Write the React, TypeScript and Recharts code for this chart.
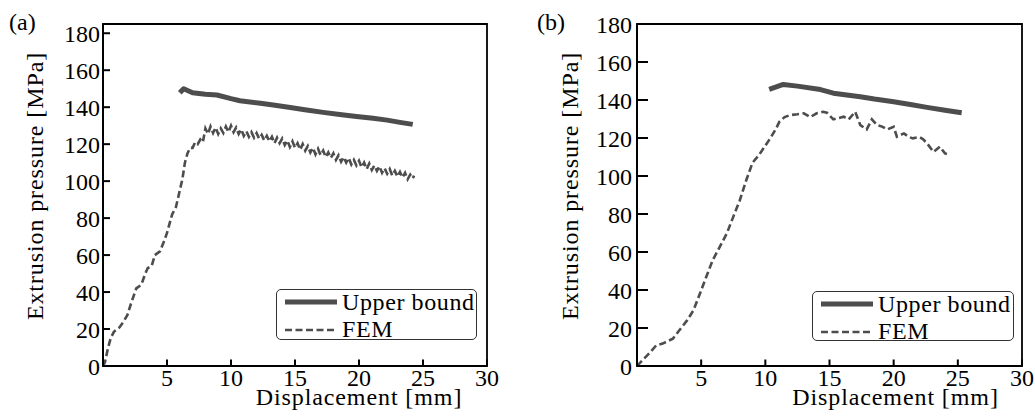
import React from "react";
import {
  LineChart,
  Line,
  XAxis,
  YAxis,
  Legend,
  Label,
  ReferenceArea,
} from "recharts";

// panel (a)
const ubDispA = [6.0, 6.3, 7.0, 8.0, 8.9, 10.0, 10.7, 12.3, 13.3, 14.5, 15.9, 17.2, 18.5, 19.8, 21.1, 22.2, 23.2, 24.2];
const ubPressA = [147.8, 150, 147.8, 147, 146.6, 144.6, 143.5, 142.1, 141.2, 140, 138.5, 137.2, 136.1, 135, 134, 133, 131.8, 130.7];

const femDispA = [
  0, 0.15, 0.4, 0.6, 0.85, 1.3, 1.6, 1.9, 2.2, 2.6, 3.0, 3.3, 3.5, 3.8, 4.05, 4.45, 4.8, 5.0, 5.4, 5.7, 6.0, 6.2, 6.4, 6.6, 6.8, 7.0, 7.2, 7.4, 7.6, 7.8,
  8.0, 8.2, 8.4, 8.6, 8.8, 9.0, 9.2, 9.4, 9.6, 9.8, 10.0, 10.2, 10.4, 10.6, 10.8, 11.0, 11.2, 11.4, 11.6, 11.8,
  12.0, 12.2, 12.4, 12.6, 12.8, 13.0, 13.2, 13.4, 13.6, 13.8, 14.0, 14.2, 14.4, 14.6, 14.8, 15.0, 15.2, 15.4, 15.6, 15.8,
  16.0, 16.2, 16.4, 16.6, 16.8, 17.0, 17.2, 17.4, 17.6, 17.8, 18.0, 18.2, 18.4, 18.6, 18.8, 19.0, 19.2, 19.4, 19.6, 19.8,
  20.0, 20.2, 20.4, 20.6, 20.8, 21.0, 21.2, 21.4, 21.6, 21.8, 22.0, 22.2, 22.4, 22.6, 22.8, 23.0, 23.2, 23.4, 23.6, 23.8,
  24.0, 24.2, 24.3,
];
const femPressA = [
  0, 2, 10, 15, 18.5, 21, 24, 27.5, 34, 42, 44, 50, 53, 54, 60, 62, 68, 72, 82, 86, 95, 101, 110, 115, 118, 118, 121, 120, 122.5, 121,
  128.5, 125.5, 129.5, 126, 129, 125.5, 128.5, 126, 129.5, 126.5, 130, 126.5, 129, 125.5, 128, 124.5, 127, 124, 126.5, 123.5,
  126, 123, 125, 122, 124.5, 121.5, 124, 120.5, 123.5, 120.5, 123, 119.5, 122, 118.5, 121.5, 118, 120.5, 117, 120, 116.5,
  119, 115.5, 118, 114.5, 117.5, 114, 116.5, 113, 115.5, 112.5, 115, 111.5, 114, 110.5, 113, 110, 112.5, 109, 111.5, 108.5,
  111, 107.5, 110, 106.5, 109.5, 106, 108.5, 105.5, 108, 104.5, 107, 104, 106.5, 103, 105.5, 102.5, 105, 102, 104.5, 101,
  103.5, 101.5, 103,
];

// panel (b)
const ubDispB = [10.3, 11.4, 12.5, 14.3, 15.3, 16.5, 17.4, 18.5, 20.0, 21.3, 22.6, 24.0, 25.3];
const ubPressB = [145.6, 148.2, 147.3, 145.5, 143.6, 142.5, 141.7, 140.5, 139.1, 137.6, 136.1, 134.6, 133.3];

const femDispB = [
  0, 0.5, 1.0, 1.5, 2.0, 2.8, 3.3, 3.9, 4.4, 4.9, 5.4, 5.9, 6.45, 7.0, 7.5, 8.0, 8.5, 9.0, 9.5, 10.0, 10.4, 10.8, 11.1, 11.5, 11.9,
  12.5, 13.0, 13.5, 14.0, 14.5, 14.8, 15.3, 15.7, 16.1, 16.5, 17.0, 17.4, 17.9, 18.3, 18.7, 19.1, 19.5, 20.0, 20.25, 20.8, 21.2,
  21.5, 22.0, 22.3, 22.6, 23.1, 23.6, 24.0, 24.4,
];
const femPressB = [
  0, 3.5, 7, 10.9, 11.8, 14.4, 18.8, 24, 29.3, 38, 47, 55.7, 62.7, 69.8, 78.5, 87, 97.5, 107, 111, 116, 120, 124.5, 128.6, 131, 132,
  132.5, 133, 131, 133, 133.8, 133.3, 129.8, 130.5, 131.2, 129.8, 133.8, 126.8, 124.5, 129.8, 126.8, 126, 124.5, 125.9, 120.7, 122.4, 120.5,
  119.8, 120.5, 119.3, 117.2, 112.7, 115.4, 111.9, 111,
];

const xTicks = [5, 10, 15, 20, 25, 30];
const yTicks = [0, 20, 40, 60, 80, 100, 120, 140, 160, 180];

const zip = (d: number[], p: number[]) => d.map((v, i) => ({ d: v, p: p[i] }));

const INK = "#4d4d4d";
const FONT = "Liberation Serif, serif";

const LegendBox = () => (
  <div
    style={{
      boxSizing: "border-box",
      width: "100%",
      height: "100%",
      border: "1.5px solid #333",
      borderRadius: 5,
      background: "#fff",
      paddingLeft: 8,
      fontFamily: FONT,
      fontSize: 24,
      letterSpacing: 0.6,
      color: "#000",
      display: "flex",
      flexDirection: "column",
      gap: 2.5,
    }}
  >
    <div style={{ display: "flex", alignItems: "center", height: 24, lineHeight: "24px" }}>
      <svg width={52} height={24} style={{ marginRight: 5 }}>
        <line x1={0} y1={12} x2={52} y2={12} stroke={INK} strokeWidth={5} />
      </svg>
      <span>Upper bound</span>
    </div>
    <div style={{ display: "flex", alignItems: "center", height: 24, lineHeight: "24px" }}>
      <svg width={52} height={24} style={{ marginRight: 5 }}>
        <line x1={0} y1={13} x2={52} y2={13} stroke={INK} strokeWidth={2.6} strokeDasharray="7 3.5" />
      </svg>
      <span>FEM</span>
    </div>
  </div>
);

type PanelProps = {
  width: number;
  rightMargin: number;
  yAxisWidth: number;
  yMax: number;
  yTickLen: number;
  yTickGap: number;
  yLabelX: number;
  xLabelDx: number;
  legendPos: { left: number; top: number; width: number; height: number };
  ub: { d: number; p: number }[];
  fem: { d: number; p: number }[];
};

const Panel: React.FC<PanelProps> = (props) => {
  const tickStyle = { fill: "#000", fontSize: 24, fontFamily: FONT };
  return (
    <LineChart
      width={props.width}
      height={416}
      margin={{ top: 24, right: props.rightMargin, bottom: 0, left: 0 }}
    >
      <XAxis
        dataKey="d"
        type="number"
        domain={[0, 30]}
        ticks={xTicks}
        allowDataOverflow
        height={50}
        axisLine={{ stroke: "#000", strokeWidth: 2 }}
        tickLine={{ stroke: "#000", strokeWidth: 2 }}
        tickSize={-6.5}
        tickMargin={9.5}
        tick={tickStyle}
      >
        <Label
          content={({ viewBox }: any) => (
            <text
              x={viewBox.x + viewBox.width / 2 + props.xLabelDx}
              y={viewBox.y + 39}
              textAnchor="middle"
              fontFamily={FONT}
              fontSize={24}
              letterSpacing={0.9}
              fill="#000"
            >
              Displacement [mm]
            </text>
          )}
        />
      </XAxis>
      <YAxis
        type="number"
        domain={[0, props.yMax]}
        ticks={yTicks}
        allowDataOverflow
        width={props.yAxisWidth}
        axisLine={{ stroke: "#000", strokeWidth: 2 }}
        tickLine={{ stroke: "#000", strokeWidth: 2 }}
        tickSize={-props.yTickLen}
        tickMargin={props.yTickLen + props.yTickGap}
        tick={tickStyle}
      >
        <Label
          content={({ viewBox }: any) => {
            const cx = props.yLabelX;
            const cy = viewBox.y + viewBox.height / 2 - 9;
            return (
              <text
                x={cx}
                y={cy}
                transform={`rotate(-90, ${cx}, ${cy})`}
                textAnchor="middle"
                fontFamily={FONT}
                fontSize={24}
                letterSpacing={0.9}
                fill="#000"
              >
                Extrusion pressure [MPa]
              </text>
            );
          }}
        />
      </YAxis>
      <ReferenceArea
        x1={0}
        x2={30}
        y1={0}
        y2={props.yMax}
        fill="none"
        stroke="#000"
        strokeWidth={1.8}
      />
      <Line
        data={props.ub}
        dataKey="p"
        name="Upper bound"
        type="linear"
        dot={false}
        stroke={INK}
        strokeWidth={5}
        strokeLinejoin="round"
        isAnimationActive={false}
      />
      <Line
        data={props.fem}
        dataKey="p"
        name="FEM"
        type="linear"
        dot={false}
        stroke={INK}
        strokeWidth={2.6}
        strokeDasharray="7 3.5"
        isAnimationActive={false}
      />
      <Legend
        layout="vertical"
        align="center"
        verticalAlign="middle"
        content={() => <LegendBox />}
        wrapperStyle={{ ...props.legendPos, margin: 0 }}
      />
    </LineChart>
  );
};

const titleStyle: React.CSSProperties = {
  position: "absolute",
  top: 10,
  fontFamily: FONT,
  fontSize: 24,
  lineHeight: "24px",
  color: "#000",
};

export default function App() {
  return (
    <div style={{ position: "relative", width: 1035, height: 416, background: "#fff", overflow: "hidden" }}>
      <style>{`body{margin:0;background:#fff}`}</style>
      <div style={{ position: "absolute", left: 0, top: 0 }}>
        <Panel
          width={517}
          rightMargin={30}
          yAxisWidth={103}
          yMax={185}
          yTickLen={7}
          yTickGap={3}
          yLabelX={43}
          xLabelDx={64}
          legendPos={{ left: 276, top: 289, width: 201, height: 51 }}
          ub={zip(ubDispA, ubPressA)}
          fem={zip(femDispA, femPressA)}
        />
      </div>
      <div style={{ position: "absolute", left: 530, top: 0 }}>
        <Panel
          width={505}
          rightMargin={13}
          yAxisWidth={107}
          yMax={180}
          yTickLen={11}
          yTickGap={5}
          yLabelX={48}
          xLabelDx={66}
          legendPos={{ left: 282, top: 291, width: 202, height: 50 }}
          ub={zip(ubDispB, ubPressB)}
          fem={zip(femDispB, femPressB)}
        />
      </div>
      <div style={{ ...titleStyle, left: 9 }}>(a)</div>
      <div style={{ ...titleStyle, left: 537 }}>(b)</div>
    </div>
  );
}
